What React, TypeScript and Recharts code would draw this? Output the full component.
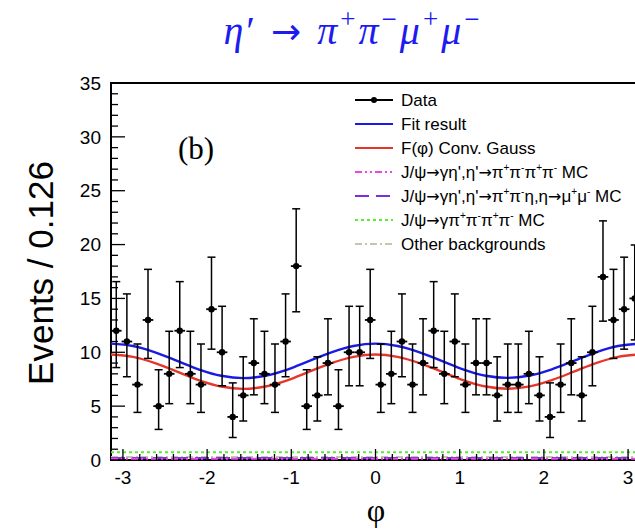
import React from 'react';
import { ComposedChart, Scatter, Line, XAxis, YAxis, ErrorBar, ReferenceArea } from 'recharts';

// bin centres, bin width 0.126
const PHI = [
  -3.079, -2.953, -2.827, -2.702, -2.576, -2.45, -2.325, -2.199, -2.073, -1.948,
  -1.822, -1.696, -1.571, -1.445, -1.319, -1.194, -1.068, -0.942, -0.817, -0.691,
  -0.565, -0.44, -0.314, -0.188, -0.063, 0.063, 0.188, 0.314, 0.44, 0.565,
  0.691, 0.817, 0.942, 1.068, 1.194, 1.319, 1.445, 1.571, 1.696, 1.822,
  1.948, 2.073, 2.199, 2.325, 2.45, 2.576, 2.702, 2.827, 2.953, 3.079,
];
const COUNTS = [
  12, 11, 7, 13, 5, 8, 12, 8, 7, 14, 10, 4, 6, 9, 8, 7,
  11, 18, 5, 6, 9, 5, 10, 10, 13, 7, 8, 11, 7, 9, 12, 8,
  11, 7, 9, 9, 6, 7, 7, 8, 6, 4, 7, 9, 6, 10, 17, 13, 14, 15,
];
// lower / upper error bar lengths, per count
const ERR_LO: Record<number, number> = {
  4: 1.91, 5: 2.16, 6: 2.38, 7: 2.58, 8: 2.77, 9: 2.95, 10: 3.11, 11: 3.27,
  12: 3.42, 13: 3.57, 14: 3.71, 15: 3.85, 17: 4.11, 18: 4.24,
};
const ERR_HI: Record<number, number> = {
  4: 3.16, 5: 3.38, 6: 3.58, 7: 3.77, 8: 3.95, 9: 4.11, 10: 4.27, 11: 4.42,
  12: 4.56, 13: 4.7, 14: 4.83, 15: 4.96, 17: 5.2, 18: 5.32,
};
const HALF_BIN = 0.063;

// fit curves, sampled every pi/12
const PHI_FIT = [
  -3.1416, -2.8798, -2.618, -2.3562, -2.0944, -1.8326, -1.5708, -1.309, -1.0472,
  -0.7854, -0.5236, -0.2618, 0, 0.2618, 0.5236, 0.7854, 1.0472, 1.309, 1.5708,
  1.8326, 2.0944, 2.3562, 2.618, 2.8798, 3.1416,
];
const FIT_TOTAL = [
  10.8, 10.58, 10.0, 9.2, 8.4, 7.82, 7.6, 7.82, 8.4, 9.2, 10.0, 10.58, 10.8,
  10.58, 10.0, 9.2, 8.4, 7.82, 7.62, 7.84, 8.42, 9.2, 10.0, 10.58, 10.8,
];
const FIT_SIGNAL = [
  9.8, 9.58, 9.0, 8.2, 7.4, 6.82, 6.6, 6.82, 7.4, 8.2, 9.0, 9.58, 9.8,
  9.58, 9.0, 8.2, 7.4, 6.82, 6.62, 6.84, 7.42, 8.2, 9.0, 9.58, 9.8,
];

// backgrounds (flat, near zero)
const PHI_BKG = [-3.1416, -1.5708, 0, 1.5708, 3.1416];
const BKG_4PI = [0.12, 0.12, 0.12, 0.12, 0.12];
const BKG_ETA = [0.18, 0.18, 0.18, 0.18, 0.18];
const BKG_NONRES = [0.72, 0.72, 0.72, 0.72, 0.72];
const BKG_OTHER = [0.28, 0.28, 0.28, 0.28, 0.28];

const Y_MAJOR = [0, 5, 10, 15, 20, 25, 30, 35];

const BLUE = '#1a1ae6';
const RED = '#e8352b';
const MAGENTA = '#ee44ee';
const PURPLE = '#7b2ee0';
const GREEN = '#55ee33';
const GRAY = '#c8c4b0';

const SANS = '"Liberation Sans", Arial, Helvetica, sans-serif';
const SERIF = '"Liberation Serif", "Times New Roman", serif';

const points = PHI.map((phi, i) => ({
  phi,
  n: COUNTS[i],
  ey: [ERR_LO[COUNTS[i]], ERR_HI[COUNTS[i]]],
  ex: HALF_BIN,
}));
const toCurve = (xs: number[], ys: number[]) => xs.map((phi, i) => ({ phi, y: ys[i] }));

// minor ticks every 0.2 on x, every 1 on y
const xTicks: number[] = [];
for (let k = -15; k <= 15; k++) xTicks.push(Math.round(k * 2) / 10);
const yTicks: number[] = [];
for (let k = 0; k <= 35; k++) yTicks.push(k);

const LEGEND = [
  { label: 'Data', color: '#000', dash: undefined, dot: true },
  { label: 'Fit result', color: BLUE, dash: undefined },
  { label: 'F(φ) Conv. Gauss', color: RED, dash: undefined },
  { label: "J/ψ→γη',η'→π^+π^-π^+π^- MC", color: MAGENTA, dash: '7 3 2 3 2 3' },
  { label: "J/ψ→γη',η'→π^+π^-η,η→μ^+μ^- MC", color: PURPLE, dash: '14 7' },
  { label: 'J/ψ→γπ^+π^-π^+π^- MC', color: GREEN, dash: '3 3' },
  { label: 'Other backgrounds', color: GRAY, dash: '7 3 2 3' },
];

const XTick = (props: any) => {
  const { x, y, payload } = props;
  const v = payload.value;
  const major = Math.abs(v - Math.round(v)) < 1e-6;
  return (
    <g>
      <line x1={x} x2={x} y1={y} y2={y - (major ? 11 : 6)} stroke="#000" strokeWidth={1.3} />
      {major && (
        <text x={x} y={y + 24} textAnchor="middle" fontSize={19} fontFamily={SANS} fill="#000">
          {Math.round(v)}
        </text>
      )}
    </g>
  );
};

const YTick = (props: any) => {
  const { x, y, payload } = props;
  const v = payload.value;
  const major = Y_MAJOR.includes(v);
  return (
    <g>
      <line x1={x} x2={x + (major ? 14 : 7)} y1={y} y2={y} stroke="#000" strokeWidth={1.3} />
      {major && (
        <text x={x - 10} y={y} dy="0.35em" textAnchor="end" fontSize={19} fontFamily={SANS} fill="#000">
          {v}
        </text>
      )}
    </g>
  );
};

// legend text: "^+" / "^-" become superscripts, arrows drawn in DejaVu Sans
function SupText({ text, x, y }: { text: string; x: number; y: number }) {
  const parts = text.split(/(\^[+-]|→)/);
  const out: React.ReactNode[] = [];
  let raised = false;
  parts.forEach((p, i) => {
    if (!p) return;
    if (p[0] === '^') {
      out.push(
        <tspan key={i} fontSize={10} dy={raised ? 0 : -7}>
          {p[1]}
        </tspan>
      );
      raised = true;
      return;
    }
    const shift = raised ? 7 : 0;
    raised = false;
    if (p === '→') {
      out.push(
        <tspan key={i} dy={shift} fontFamily='"DejaVu Sans", sans-serif' fontSize={16}>
          →
        </tspan>
      );
    } else {
      out.push(
        <tspan key={i} dy={shift}>
          {p}
        </tspan>
      );
    }
  });
  return (
    <text x={x} y={y} fontSize={17} fontFamily={SANS} fill="#000">
      {out}
    </text>
  );
}

export default function App() {
  return (
    <div style={{ position: 'absolute', left: 0, top: 0, width: 635, height: 532, overflow: 'hidden', background: '#fff' }}>
      <ComposedChart width={660} height={532} margin={{ top: 83, right: 20, bottom: 42, left: 51 }}>
        <XAxis
          dataKey="phi"
          type="number"
          domain={[-3.1416, 3.1416]}
          allowDataOverflow
          ticks={xTicks}
          interval={0}
          tick={<XTick />}
          tickLine={false}
          axisLine={false}
          tickSize={0}
          tickMargin={0}
          height={30}
        />
        <YAxis
          type="number"
          domain={[0, 35]}
          ticks={yTicks}
          interval={0}
          tick={<YTick />}
          tickLine={false}
          axisLine={false}
          tickSize={0}
          tickMargin={0}
          width={60}
        />
        <ReferenceArea x1={-3.1416} x2={3.1416} y1={0} y2={35} fill="none" stroke="#000" strokeWidth={2} ifOverflow="visible" />
        <Line data={toCurve(PHI_BKG, BKG_OTHER)} dataKey="y" stroke={GRAY} strokeWidth={2} strokeDasharray="7 3 2 3" dot={false} isAnimationActive={false} />
        <Line data={toCurve(PHI_BKG, BKG_NONRES)} dataKey="y" stroke={GREEN} strokeWidth={2} strokeDasharray="3 3" dot={false} isAnimationActive={false} />
        <Line data={toCurve(PHI_BKG, BKG_ETA)} dataKey="y" stroke={PURPLE} strokeWidth={2} strokeDasharray="14 7" dot={false} isAnimationActive={false} />
        <Line data={toCurve(PHI_BKG, BKG_4PI)} dataKey="y" stroke={MAGENTA} strokeWidth={2} strokeDasharray="7 3 2 3 2 3" dot={false} isAnimationActive={false} />
        <Line data={toCurve(PHI_FIT, FIT_SIGNAL)} dataKey="y" type="monotone" stroke={RED} strokeWidth={2.4} dot={false} isAnimationActive={false} />
        <Line data={toCurve(PHI_FIT, FIT_TOTAL)} dataKey="y" type="monotone" stroke={BLUE} strokeWidth={2.4} dot={false} isAnimationActive={false} />
        <Scatter
          data={points}
          dataKey="n"
          fill="#000"
          isAnimationActive={false}
          shape={(p: any) => <circle cx={p.cx} cy={p.cy} r={3.2} fill="#000" />}
        >
          <ErrorBar dataKey="ey" direction="y" width={4} stroke="#000" strokeWidth={1.5} isAnimationActive={false} />
          <ErrorBar dataKey="ex" direction="x" width={0} stroke="#000" strokeWidth={1.8} isAnimationActive={false} />
        </Scatter>
      </ComposedChart>

      <svg width={635} height={532} style={{ position: 'absolute', left: 0, top: 0, pointerEvents: 'none' }}>
        <text x={353} y={44} textAnchor="middle" fontFamily={SERIF} fontSize={40} letterSpacing={3} fill="#1c1cf0">
          <tspan fontStyle="italic">η</tspan>
          <tspan>′  </tspan>
          <tspan fontFamily='"DejaVu Sans", sans-serif' fontSize={36}>→</tspan>
          <tspan>  </tspan>
          <tspan fontStyle="italic">π</tspan>
          <tspan fontSize={27} dy={-16}>+</tspan>
          <tspan fontStyle="italic" dy={16}>π</tspan>
          <tspan fontSize={27} dy={-16}>−</tspan>
          <tspan fontStyle="italic" dy={16}>μ</tspan>
          <tspan fontSize={27} dy={-16}>+</tspan>
          <tspan fontStyle="italic" dy={16}>μ</tspan>
          <tspan fontSize={27} dy={-16}>−</tspan>
        </text>
        <text x={178} y={159} fontFamily={SERIF} fontSize={31} fill="#000">(b)</text>
        <text x={53} y={273} transform="rotate(-90 53 273)" textAnchor="middle" fontFamily={SANS} fontSize={35} fill="#000">
          Events / 0.126
        </text>
        <text x={376} y={521} textAnchor="middle" fontFamily={SERIF} fontSize={32} fill="#000">φ</text>
        {LEGEND.map((item, i) => {
          const cy = 100 + i * 24;
          return (
            <g key={item.label}>
              <line x1={355} x2={393} y1={cy} y2={cy} stroke={item.color} strokeWidth={2} strokeDasharray={item.dash} />
              {item.dot && <circle cx={374} cy={cy} r={3} fill="#000" />}
              <SupText text={item.label} x={401} y={cy + 6} />
            </g>
          );
        })}
      </svg>
    </div>
  );
}
